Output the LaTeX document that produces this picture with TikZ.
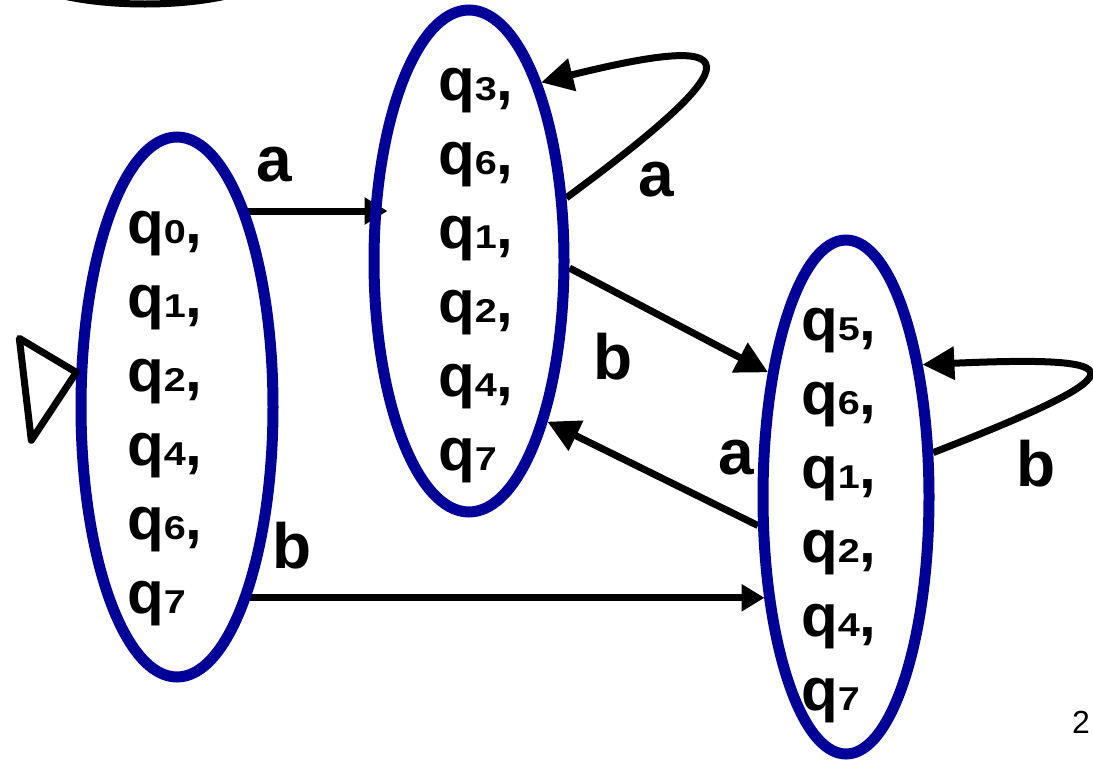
\documentclass[tikz,border=0pt]{standalone}
\usepackage{fontspec}
\setmainfont{Liberation Sans}
\usetikzlibrary{shapes.geometric, arrows.meta, backgrounds}
\definecolor{stateblue}{RGB}{0,0,153}
\newcommand{\qsub}[1]{\scalebox{1.2}[1]{\fontsize{33}{33}\selectfont #1}}

\begin{document}
\begin{tikzpicture}[
      x=1pt, y=-1pt,
      dstate/.style={ellipse, draw=stateblue, line width=11pt, inner sep=0pt},
      setlist/.style={font=\fontsize{60}{74}\selectfont\bfseries, align=left, inner sep=0pt, anchor=north west},
      edgelabel/.style={font=\fontsize{64}{64}\selectfont\bfseries, inner sep=0pt},
      arrow/.style={-{Triangle[length=32pt, width=32pt]}, line width=7pt},
      shortarrow/.style={-{Triangle[length=23pt, width=26pt]}, line width=7pt}
    ]
    \useasboundingbox (0,0) rectangle (1093,761);

    % Cut-off state at the top
    \begin{scope}
        \clip (0,0) rectangle (1093,761);
        \draw[line width=7pt] (145,-46) ellipse [x radius=150pt, y radius=50pt];
    \end{scope}

    % States
    \node[dstate, minimum width=192pt, minimum height=540pt] (s0) at (177,407) {};
    \node[dstate, minimum width=190pt, minimum height=502pt] (s1) at (469,261) {};
    \node[dstate, minimum width=166pt, minimum height=514pt] (s2) at (846,497) {};

    \node[setlist] (t0) at (127,211) {q\qsub{0},\\q\qsub{1},\\q\qsub{2},\\q\qsub{4},\\q\qsub{6},\\q\qsub{7}};
    \node[setlist] (t1) at (438,68) {q\qsub{3},\\q\qsub{6},\\q\qsub{1},\\q\qsub{2},\\q\qsub{4},\\q\qsub{7}};
    \node[setlist] (t2) at (801,308) {q\qsub{5},\\q\qsub{6},\\q\qsub{1},\\q\qsub{2},\\q\qsub{4},\\q\qsub{7}};

    % Start marker
    \draw[line width=7pt, line join=round] (s0.161) -- ++(-57,-34) -- ++(12,102) -- cycle;

    % Transitions
    \begin{scope}[on background layer]
        \draw[shortarrow] (s0.70) -- ([xshift=19pt]s1.west |- s0.70);
        \draw[arrow] (s1.-4) -- (s2.122);
        \draw[arrow] (s2.198) -- (s1.-64);
        \draw[shortarrow] (s0.-69) -- ([xshift=7pt]s2.west |- s0.-69);
        \draw[arrow] (s1.33) .. controls (760,55) and (745,32) .. (s1.68);
        \draw[arrow] (s2.27) .. controls (1140,372) and (1140,355) .. (s2.60);
    \end{scope}

    % Labels
    \node[edgelabel] (a01) at (274,165) {a};
    \node[edgelabel] (a11) at (656,180) {a};
    \node[edgelabel] (b12) at (613,357) {b};
    \node[edgelabel] (a21) at (736,458) {a};
    \node[edgelabel] (b22) at (1036,464) {b};
    \node[edgelabel] (b02) at (292,546) {b};

    \node[font=\fontsize{32}{32}\selectfont, inner sep=0pt] (page) at (1081,722) {2};

\end{tikzpicture}
\end{document}
